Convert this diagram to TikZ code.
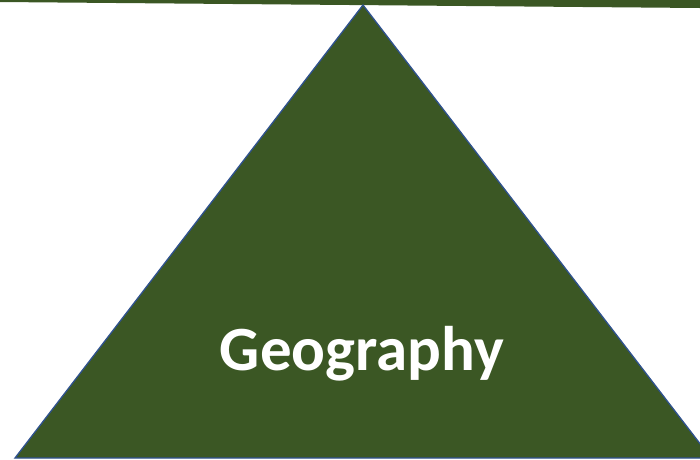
\documentclass[tikz,border=0pt]{standalone}
\usepackage{fontspec}
\setmainfont{Carlito}
\definecolor{tri}{HTML}{3B5724}
\definecolor{edge}{HTML}{2F528F}
\tikzset{
  tribox/.style={fill=tri, draw=edge, line width=1.3pt, line join=miter},
  lbl/.style={text=white, font=\fontsize{63}{70}\bfseries\selectfont, inner sep=0pt, anchor=base}
}
\begin{document}
\begin{tikzpicture}[x=1pt,y=-1pt]
\useasboundingbox (0,0) rectangle (700,459);
\begin{scope}
\clip (0,0) rectangle (700,459);
% top bar
\fill[tri] (0,-1) -- (700,-1) -- (700,8) -- (0,2) -- cycle;
% triangle
\coordinate (apex) at (363,5);
\coordinate (bl) at (15,458);
\coordinate (br) at (711,458);
\draw[tribox] (apex) -- (br) -- (bl) -- cycle;
\node[lbl] (geo) at (362,370) {Geography};
\end{scope}
\end{tikzpicture}
\end{document}
